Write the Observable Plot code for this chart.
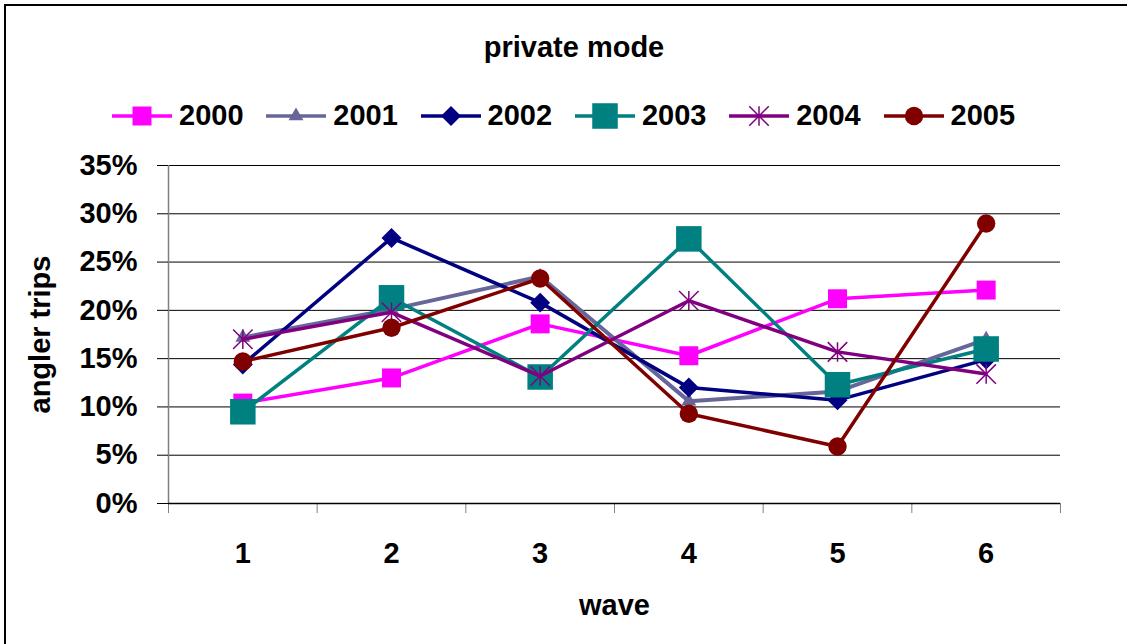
<!DOCTYPE html>
<html><head><meta charset="utf-8">
<script src="https://cdn.jsdelivr.net/npm/d3@7"></script>
<script src="https://cdn.jsdelivr.net/npm/@observablehq/plot@0.6"></script>
<style>
html,body{margin:0;padding:0;background:#fff;}
#wrap{position:relative;width:1127px;height:644px;overflow:hidden;font-family:"Liberation Sans",Arial,sans-serif;font-weight:bold;color:#000;}
#frame{position:absolute;left:4px;top:4px;width:1200px;height:800px;border-left:2px solid #000;border-top:2px solid #000;}
#head{position:relative;height:140px;}
.t{position:absolute;font-size:29px;line-height:29px;white-space:nowrap;}
.sw{position:absolute;overflow:visible;}
#chart{position:relative;height:504px;}
</style></head><body>
<div id="wrap"><div id="frame"></div><div id="head"></div><div id="chart"></div></div>
<script>
// ---- data ----
const title = "private mode";
const xTitle = "wave";
const yTitle = "angler trips";
const waves = [1, 2, 3, 4, 5, 6];
const yTicks = [0, 5, 10, 15, 20, 25, 30, 35];
const years = ["2000", "2001", "2002", "2003", "2004", "2005"];
const s2000 = [10.4, 13.0, 18.6, 15.3, 21.2, 22.1];
const s2001 = [17.2, 20.1, 23.5, 10.6, 11.6, 17.0];
const s2002 = [14.4, 27.5, 20.8, 12.0, 10.7, 14.9];
const s2003 = [9.5, 21.3, 13.1, 27.4, 12.3, 16.0];
const s2004 = [17.0, 19.8, 13.2, 21.0, 15.7, 13.4];
const s2005 = [14.7, 18.2, 23.3, 9.3, 5.9, 29.0];
const seriesValues = [s2000, s2001, s2002, s2003, s2004, s2005];
const colors = ["#FF00FF", "#666699", "#000080", "#008080", "#800080", "#800000"];

// ---- styling ----
const star = {
  draw(ctx, size) {
    const h = Math.sqrt(size) * 0.5;
    ctx.moveTo(-h, -h); ctx.lineTo(h, h);
    ctx.moveTo(h, -h); ctx.lineTo(-h, h);
    ctx.moveTo(0, -h); ctx.lineTo(0, h);
  }
};
const symbols = ["square", "triangle", "diamond2", "square", star, "circle"];
const d3Symbols = [d3.symbolSquare, d3.symbolTriangle, d3.symbolDiamond2, d3.symbolSquare, star, d3.symbolCircle];
const radii = [10.7, 5.5, 9, 14.4, 11, 9.2];
const lineWidths = [3.5, 4, 3.5, 3.5, 3.5, 3.5];
const stroked = [false, false, false, false, true, false];

const rows = [];
years.forEach((yr, i) => seriesValues[i].forEach((v, j) => rows.push({year: yr, wave: waves[j], value: v})));
const bounds = waves.map(w => w - 0.5).concat([waves[waves.length - 1] + 0.5]);

// ---- header: title + legend ----
const head = document.getElementById("head");
const tEl = document.createElement("div");
tEl.className = "t";
tEl.textContent = title;
tEl.style.left = "574px"; tEl.style.top = "33px"; tEl.style.transform = "translateX(-50%)";
head.appendChild(tEl);

years.forEach((yr, i) => {
  const left = 112 + i * 154.3;
  const svg = d3.create("svg").attr("class", "sw").attr("width", 62).attr("height", 30)
    .style("left", left + "px").style("top", "101px");
  svg.append("line").attr("x1", 0).attr("x2", 60).attr("y1", 15).attr("y2", 15)
    .attr("stroke", colors[i]).attr("stroke-width", 3.5);
  svg.append("path").attr("transform", "translate(30,15)")
    .attr("d", d3.symbol(d3Symbols[i], Math.PI * radii[i] * radii[i])())
    .attr("fill", stroked[i] ? "none" : colors[i])
    .attr("stroke", stroked[i] ? colors[i] : "none")
    .attr("stroke-width", 1.5);
  head.appendChild(svg.node());
  const lt = document.createElement("div");
  lt.className = "t";
  lt.textContent = yr;
  lt.style.left = (left + 67) + "px"; lt.style.top = "101px";
  head.appendChild(lt);
});

// ---- chart ----
const seriesMarks = years.flatMap((yr, i) => {
  const d = rows.filter(r => r.year === yr);
  return [
    Plot.line(d, {x: "wave", y: "value", stroke: colors[i], strokeWidth: lineWidths[i]}),
    Plot.dot(d, {
      x: "wave", y: "value", symbol: symbols[i], r: radii[i],
      fill: stroked[i] ? "none" : colors[i],
      stroke: stroked[i] ? colors[i] : "none",
      strokeWidth: 1.5
    })
  ];
});

const chart = Plot.plot({
  width: 1127, height: 504,
  marginTop: 25, marginBottom: 141, marginLeft: 168, marginRight: 67,
  x: {type: "linear", domain: [bounds[0], bounds[bounds.length - 1]]},
  y: {domain: [yTicks[0], yTicks[yTicks.length - 1]]},
  style: {fontFamily: '"Liberation Sans", Arial, sans-serif', fontSize: "29px", fontWeight: "bold", color: "#000", background: "transparent", overflow: "visible"},
  marks: [
    Plot.ruleY(yTicks.slice(1), {x1: bounds[0], x2: bounds[bounds.length - 1], stroke: "#000", strokeWidth: 1}),
    Plot.ruleX([bounds[0]], {y1: yTicks[0], y2: yTicks[yTicks.length - 1], stroke: "#808080", strokeWidth: 1.5}),
    Plot.axisY(yTicks, {tickSize: 11, tickPadding: 20, tickFormat: d => d + "%", label: null, stroke: "#000"}),
    Plot.axisX(bounds, {tickSize: 10, tickFormat: () => "", label: null, stroke: "#808080"}),
    Plot.axisX(waves, {tickSize: 0, tickPadding: 39, tickFormat: d => String(d), label: null}),
    Plot.ruleY([yTicks[0]], {x1: bounds[0], x2: bounds[bounds.length - 1], stroke: "#000", strokeWidth: 1.5}),
    ...seriesMarks,
    Plot.text([xTitle], {text: d => d, frameAnchor: "bottom", dy: 102, lineAnchor: "middle", textAnchor: "middle"}),
    Plot.text([yTitle], {text: d => d, frameAnchor: "left", dx: -128, rotate: -90, lineAnchor: "middle", textAnchor: "middle"})
  ]
});
document.getElementById("chart").appendChild(chart);
</script>
</body></html>
